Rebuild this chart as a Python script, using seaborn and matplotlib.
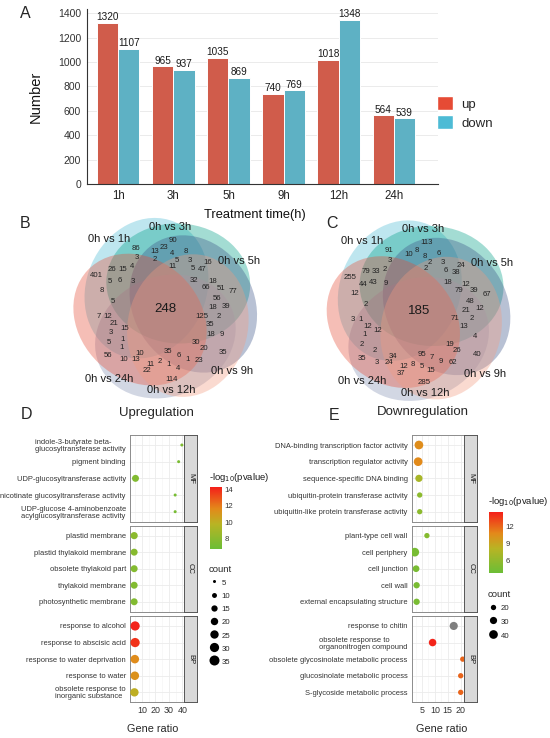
import numpy as np
import pandas as pd
import seaborn as sns
import matplotlib.pyplot as plt
from matplotlib.patches import Ellipse, Patch
from matplotlib.lines import Line2D
from matplotlib.colors import LinearSegmentedColormap, Normalize
from matplotlib.cm import ScalarMappable

sns.set_style("white")
plt.rcParams["font.family"] = ["Liberation Sans", "DejaVu Sans"]

W, H = 550, 738

# ---------------- panel A data
times = ["1h", "3h", "5h", "9h", "12h", "24h"]
up_counts = [1320, 965, 1035, 740, 1018, 564]
down_counts = [1107, 937, 869, 769, 1348, 539]

# ---------------- panel B / C data (venn region counts, None = empty region)
venn_sets = ["0h vs 1h", "0h vs 3h", "0h vs 5h", "0h vs 9h", "0h vs 12h", "0h vs 24h"]
venn_B_core = 248
venn_C_core = 185
venn_B_counts = [90, 23, 13, 86, 8, 4, 2, 3, 5, 3, 16, 11, 26, 15, 4, 5, 47, 401, 5, 6,
                 3, 32, 18, 66, 51, 77, 8, 56, 39, 5, 18, 7, 12, 125, 2, 21, 15, 35, 3, 1,
                 18, 9, 5, 1, 30, 20, 35, 35, 6, 10, 56, 10, 13, 1, 23, 11, 2, 1, 4, 22, 114]
venn_C_counts = [113, 8, 10, 91, 6, 8, None, 3, 2, 3, 24, 2, 79, 33, 2, 6, 38, 255, 44, 43,
                 9, 18, 12, 79, 39, 67, 12, 48, 12, 2, 21, 3, 1, 71, 2, 12, 12, 13, 1, None,
                 None, 4, 2, 2, 19, 26, 40, 95, 7, 34, 35, 3, 24, 9, 62, 12, 8, 5, 15, 37, 285]

# ---------------- panel D / E data (GO enrichment)
up_terms = ["indole-3-butyrate beta-\nglucosyltransferase activity", "pigment binding",
            "UDP-glucosyltransferase activity", "nicotinate glucosyltransferase activity",
            "UDP-glucose 4-aminobenzoate\nacylglucosyltransferase activity",
            "plastid membrane", "plastid thylakoid membrane", "obsolete thylakoid part",
            "thylakoid membrane", "photosynthetic membrane",
            "response to alcohol", "response to abscisic acid", "response to water deprivation",
            "response to water", "obsolete response to\ninorganic substance"]
up_ont = ["MF"] * 5 + ["CC"] * 5 + ["BP"] * 5
up_ratio = [39.7, 37.3, 5.1, 34.7, 34.7, 4.1, 4.1, 4.1, 4.1, 4.1, 4.8, 4.8, 4.6, 4.6, 4.3]
up_logp = [7.5, 7.3, 7.6, 7.2, 7.2, 8.0, 7.8, 7.7, 7.6, 7.6, 14.2, 13.8, 11.5, 11.3, 10.0]
up_count = [5, 5, 18, 5, 5, 19, 18, 18, 18, 18, 30, 30, 26, 26, 25]

down_terms = ["DNA-binding transcription factor activity", "transcription regulator activity",
              "sequence-specific DNA binding", "ubiquitin-protein transferase activity",
              "ubiquitin-like protein transferase activity",
              "plant-type cell wall", "cell periphery", "cell junction", "cell wall",
              "external encapsulating structure",
              "response to chitin", "obsolete response to\norganonitrogen compound",
              "obsolete glycosinolate metabolic process", "glucosinolate metabolic process",
              "S-glycoside metabolic process"]
down_ont = ["MF"] * 5 + ["CC"] * 5 + ["BP"] * 5
down_ratio = [3.8, 3.5, 3.8, 4.1, 4.1, 6.9, 2.2, 2.7, 2.9, 2.9, 17.3, 9.1, 20.8, 20.0, 20.0]
down_logp = [10.6, 10.8, 7.2, 5.6, 5.6, 5.2, 4.4, 4.5, 4.5, 4.5, 18.0, 14.5, 12.2, 12.2, 12.2]
down_count = [42, 42, 30, 20, 20, 12, 45, 27, 25, 25, 36, 32, 19, 19, 19]

# ---------------- layout helpers
fig = plt.figure(figsize=(W / 100, H / 100), dpi=100)


def fa(x0, y0, x1, y1):
    return [x0 / W, 1 - y1 / H, (x1 - x0) / W, (y1 - y0) / H]


def ftext(x, y, s, **kw):
    fig.text(x / W, 1 - y / H, s, **kw)


npg = ["#E64B35", "#4DBBD5", "#00A087", "#3C5488", "#F39B7F", "#8491B4"]

# ================= A: bar chart
bar_df = pd.DataFrame({
    "time": times * 2,
    "group": ["up"] * len(times) + ["down"] * len(times),
    "value": up_counts + down_counts,
})
axA = fig.add_axes(fa(86.7, 9, 438, 184))
sns.barplot(data=bar_df, x="time", y="value", hue="group", order=times,
            hue_order=["up", "down"], palette={"up": npg[0], "down": npg[1]},
            width=0.77, edgecolor="white", linewidth=0.7, legend=False, ax=axA)
for cont in axA.containers:
    axA.bar_label(cont, fontsize=7.2, padding=0.5, color="#1A1A1A")
axA.set_xlim(-0.57, 5.8)
axA.set_ylim(0, 1435)
axA.set_yticks(range(0, 1401, 200))
axA.grid(axis="y", color="#EBEBEB", lw=0.7)
axA.set_axisbelow(True)
for s in ["top", "right"]:
    axA.spines[s].set_visible(False)
for s in ["left", "bottom"]:
    axA.spines[s].set_color("#333333")
    axA.spines[s].set_linewidth(0.8)
axA.tick_params(axis="both", labelsize=7.5, colors="#333333", length=2.5, width=0.7,
                labelcolor="#333333", pad=1.5)
axA.tick_params(axis="x", labelsize=8.3, labelcolor="#222222")
axA.set_ylabel("Number", fontsize=10.5, color="#111111")
axA.yaxis.set_label_coords(-0.125, 0.5)
axA.set_xlabel("Treatment time(h)", fontsize=9.3, color="#111111")
axA.xaxis.set_label_coords(0.48, -0.145)
fig.legend(handles=[Patch(fc=npg[0], ec="white"), Patch(fc=npg[1], ec="white")],
           labels=["up", "down"], loc="center left",
           bbox_to_anchor=(437 / W, 1 - 113 / H), frameon=False, fontsize=9.5,
           handlelength=1.25, handleheight=1.25, handletextpad=0.6, labelspacing=0.35,
           borderaxespad=0, borderpad=0)

# ================= B / C: six-set venn
venn_slot_xy = [(7.7, 68.3), (-1.7, 60.7), (-10.7, 56.7), (-29.7, 60), (20, 57.3), (6, 55),
                (-11.3, 49), (-29, 50.7), (11, 48.3), (23.7, 48.3), (42, 45.7), (7, 42.3),
                (-53.3, 39.3), (-43.3, 39.3), (-34, 41.7), (26.7, 40), (36.7, 39), (-69, 33.3),
                (-55.7, 26.7), (-45.7, 28.3), (-33, 27.3), (28.3, 28.3), (47, 26.7), (39.7, 21),
                (55, 20), (67.7, 16.7), (-64, 17.7), (51.7, 9.7), (60.3, 2.3), (-53, 6.7),
                (46.7, 0.7), (-66.5, -8.3), (-58, -8.3), (36, -7.7), (52.7, -7.7),
                (-51.7, -15), (-41.3, -20), (44.3, -16), (-54.7, -24), (-43, -30.7), (45, -26),
                (56, -26), (-56.7, -34), (-44, -39.3), (30.7, -33.5), (38, -40), (57.7, -44),
                (2.7, -43.3), (12.7, -46.7), (-26.3, -45), (-57.3, -47.3), (-41.7, -51),
                (-30, -51), (22, -50.7), (33.7, -51.7), (-15, -55.7), (-6.3, -53.3),
                (3.3, -55.7), (12, -60), (-18.3, -62.3), (5.5, -71.2)]
venn_name_xy = [(-57, 69.5), (4, 82), (73.5, 48), (66, -63), (6, -81.7), (-57, -70.5)]
petal_dir = [154, 84, 14, -40, -87, -140]
draw_order = [1, 2, 3, 5, 0, 4]


def draw_venn(cx, cy, core, counts):
    R = 100
    ax = fig.add_axes(fa(cx - R, cy - R, cx + R, cy + R))
    ax.set_xlim(-R, R)
    ax.set_ylim(-R, R)
    ax.set_aspect("equal")
    ax.axis("off")
    for k in draw_order:
        phi = petal_dir[k]
        p1 = np.array([np.cos(np.radians(phi)), np.sin(np.radians(phi))]) * 87
        p2 = np.array([np.cos(np.radians(phi + 140)), np.sin(np.radians(phi + 140))]) * 66
        mid = (p1 + p2) / 2
        d = p1 - p2
        ang = np.degrees(np.arctan2(d[1], d[0]))
        ax.add_patch(Ellipse(mid, np.hypot(*d), 120, angle=ang, fc=npg[k],
                             alpha=0.36, lw=0))
    for (x, y), n in zip(venn_slot_xy, counts):
        if n is not None:
            ax.text(x, y, str(n), fontsize=5.6, ha="center", va="center", color="#222222")
    ax.text(0, 0, str(core), fontsize=9.5, ha="center", va="center", color="#1A1A1A")
    for (x, y), name in zip(venn_name_xy, venn_sets):
        ax.text(x, y, name, fontsize=8, ha="center", va="center", color="#1A1A1A")


draw_venn(165.7, 308.5, venn_B_core, venn_B_counts)
draw_venn(419, 311, venn_C_core, venn_C_counts)

# ================= D / E: GO dot plots
cmap = LinearSegmentedColormap.from_list(
    "go", [(0, "#6BBE36"), (0.4, "#B8B424"), (0.65, "#E3891A"), (1, "#F41F1A")])
cmap.set_over("#7F7F7F")

facet_y = {"MF": (435, 521.7), "CC": (525.7, 611.7), "BP": (616, 702.3)}


def go_panel(df, x0, x1, xs, xlim, xticks, xminor, norm, size_norm, sizes):
    for ont in ["MF", "CC", "BP"]:
        y0, y1 = facet_y[ont]
        ax = fig.add_axes(fa(x0, y0, x1, y1))
        sub = df[df["ont"] == ont]
        sns.scatterplot(data=sub, x="ratio", y="term", hue="logp", size="count",
                        palette=cmap, hue_norm=norm, sizes=sizes, size_norm=size_norm,
                        linewidth=0, legend=False, ax=ax, zorder=3)
        ax.set_xlim(*xlim)
        ax.set_ylim(4.6, -0.6)
        ax.set_yticks(range(len(sub)))
        ax.set_yticklabels(sub["term"], multialignment="left", linespacing=1.0)
        ax.set_xticks(xticks)
        ax.set_xticks(xminor, minor=True)
        ax.grid(which="major", color="#EBEBEB", lw=0.6)
        ax.grid(which="minor", axis="x", color="#F4F4F4", lw=0.4)
        ax.set_axisbelow(True)
        ax.set_xlabel("")
        ax.set_ylabel("")
        for s in ax.spines.values():
            s.set_color("#8C8C8C")
            s.set_linewidth(0.7)
        ax.tick_params(axis="y", labelsize=5.4, colors="#333333", length=2, width=0.5, pad=1)
        ax.tick_params(axis="x", which="both", labelsize=6.4, colors="#333333",
                       length=2, width=0.5, pad=1)
        ax.tick_params(axis="x", which="minor", length=0)
        if ont != "BP":
            ax.tick_params(axis="x", labelbottom=False, length=0)
        sax = fig.add_axes(fa(x1, y0, xs, y1))
        sax.set_facecolor("#D9D9D9")
        sax.set_xticks([])
        sax.set_yticks([])
        for s in sax.spines.values():
            s.set_color("#555555")
            s.set_linewidth(0.7)
        sax.text(0.5, 0.5, ont, rotation=270, ha="center", va="center", fontsize=5.5,
                 color="#1A1A1A", transform=sax.transAxes)


def size_legend(x, y, ticks, size_norm, sizes, spacing):
    lo, hi = sizes
    handles = []
    for t in ticks:
        s = lo + (t - size_norm[0]) / (size_norm[1] - size_norm[0]) * (hi - lo)
        handles.append(Line2D([], [], marker="o", ls="", color="black",
                              markersize=np.sqrt(s), markeredgewidth=0))
    fig.legend(handles=handles, labels=[str(t) for t in ticks], loc="upper left",
               bbox_to_anchor=(x / W, 1 - y / H), frameon=False, fontsize=5.6,
               title="count", title_fontsize=6.8, alignment="left",
               handletextpad=0.4, labelspacing=spacing, borderaxespad=0, borderpad=0,
               handlelength=1.2, handleheight=1.45)


def color_bar(x0, y0, x1, y1, norm, ticks, title_y):
    cax = fig.add_axes(fa(x0, y0, x1, y1))
    cb = fig.colorbar(ScalarMappable(norm=norm, cmap=cmap), cax=cax)
    cb.outline.set_visible(False)
    cb.set_ticks(ticks)
    cax.tick_params(labelsize=5.6, length=2, width=0.5, color="white", direction="in",
                    pad=2, labelcolor="#333333")
    ftext(x0 - 1, title_y, "-log$_{10}$(pvalue)", fontsize=6.8, va="center",
          color="#1A1A1A")


up_df = pd.DataFrame({"term": up_terms, "ont": up_ont, "ratio": up_ratio,
                      "logp": up_logp, "count": up_count})
down_df = pd.DataFrame({"term": down_terms, "ont": down_ont, "ratio": down_ratio,
                        "logp": down_logp, "count": down_count})

normD = Normalize(6.7, 14.3)
go_panel(up_df, 130, 184, 197, (1, 41.3), [10, 20, 30, 40], [5, 15, 25, 35],
         normD, (5, 35), (4.7, 52))
color_bar(210, 487, 222, 549, normD, [8, 10, 12, 14], 478)
size_legend(209, 565, [5, 10, 15, 20, 25, 30, 35], (5, 35), (4.7, 52), 0.5)

normE = Normalize(3.7, 14.7)
go_panel(down_df, 411.7, 464.3, 477.3, (1, 21.4), [5, 10, 15, 20], [2.5, 7.5, 12.5, 17.5],
         normE, (20, 40), (14.6, 39.2))
color_bar(489, 512, 502.7, 573, normE, [6, 9, 12], 502)
size_legend(488, 590, [20, 30, 40], (20, 40), (14.6, 39.2), 0.55)

# titles and labels
ftext(156, 413, "Upregulation", fontsize=9.5, ha="center", va="center")
ftext(423, 412, "Downregulation", fontsize=9.5, ha="center", va="center")
ftext(153, 729, "Gene ratio", fontsize=7.8, ha="center", va="center")
ftext(442, 729, "Gene ratio", fontsize=7.8, ha="center", va="center")
for letter, x, y in [("A", 25, 13), ("B", 25, 223), ("C", 332, 223), ("D", 26, 414),
                     ("E", 334, 415)]:
    ftext(x, y, letter, fontsize=11.5, ha="center", va="center")

fig.savefig("out.png", dpi=100)
